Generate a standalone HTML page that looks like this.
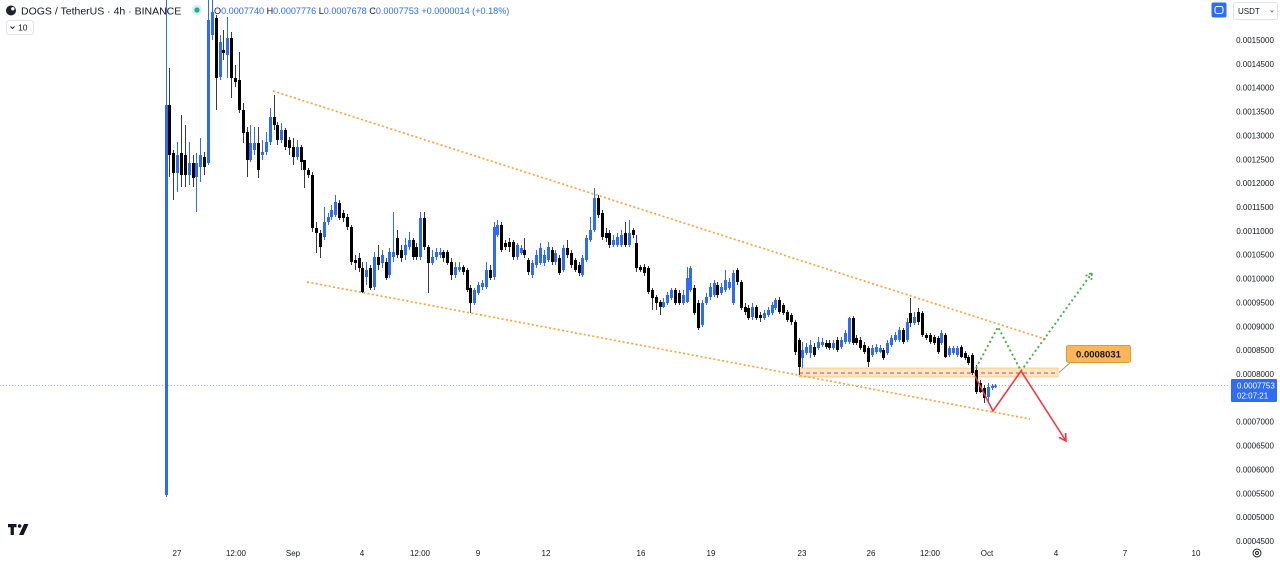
<!DOCTYPE html>
<html><head><meta charset="utf-8">
<style>
html,body{margin:0;padding:0;background:#fff;width:1280px;height:562px;overflow:hidden}
svg{display:block;font-family:"Liberation Sans",Arial,sans-serif}
</style></head><body>
<svg id="chart" width="1280" height="562" viewBox="0 0 1280 562" xmlns="http://www.w3.org/2000/svg">
<rect width="1280" height="562" fill="#ffffff"/>

<!-- current price dotted line -->
<line x1="0" y1="385.5" x2="1230" y2="385.5" stroke="#7fa6f2" stroke-width="1" stroke-dasharray="1 2" opacity="0.8"/>

<!-- support band -->
<rect x="799" y="368" width="259" height="9" fill="rgba(255,167,38,0.28)" stroke="rgba(245,160,50,0.55)" stroke-width="0.8"/>
<line x1="799" y1="373" x2="1058" y2="373" stroke="#b84a78" stroke-width="1" stroke-dasharray="4 3"/>

<!-- wedge trend lines -->
<line x1="273" y1="91" x2="1048" y2="340" stroke="#f7a43a" stroke-width="1.7" stroke-dasharray="2 2.4"/>
<line x1="307" y1="282" x2="1030" y2="419" stroke="#f7a43a" stroke-width="1.7" stroke-dasharray="2 2.4"/>

<g id="candles"></g>

<!-- projections -->
<polyline points="976,368 998,327 1021,371 1092,273" fill="none" stroke="#4caf50" stroke-width="2" stroke-dasharray="2 2.8"/>
<polyline points="1085.6,275.9 1092,273 1091.3,280" fill="none" stroke="#4caf50" stroke-width="1.8" stroke-dasharray="2 2"/>
<polyline points="975,376 993,411 1021,371 1066,441" fill="none" stroke="#f23645" stroke-width="1.6"/>
<polyline points="1065.6,433 1066,441 1058.9,437.3" fill="none" stroke="#f23645" stroke-width="1.6"/>

<!-- callout -->
<line x1="1071" y1="362" x2="1059" y2="372.5" stroke="#b99060" stroke-width="1"/>
<rect x="1066.5" y="345.5" width="64" height="17" rx="2" fill="#f9b65a" stroke="#e09a36" stroke-width="1"/>
<text x="1098.5" y="357.3" font-size="9.5" font-weight="bold" text-anchor="middle" fill="#131722">0.0008031</text>

<!-- header -->
<circle cx="11" cy="10.5" r="5" fill="#1e222d"/>
<circle cx="12.8" cy="8.8" r="1.7" fill="#ffffff"/>
<text x="21" y="14.5" font-size="10.5" fill="#131722">DOGS / TetherUS · 4h · BINANCE</text>
<circle cx="197" cy="10" r="5" fill="rgba(34,171,148,0.18)"/>
<circle cx="197" cy="10" r="2.6" fill="#22ab94"/>
<text x="214" y="14" font-size="9.1" fill="#2f6cf5"><tspan fill="#131722">O</tspan>0.0007740 <tspan fill="#131722">H</tspan>0.0007776 <tspan fill="#131722">L</tspan>0.0007678 <tspan fill="#131722">C</tspan>0.0007753 +0.0000014 (+0.18%)</text>

<rect x="6.5" y="20.5" width="27" height="14" rx="3" fill="#fff" stroke="#e0e3eb"/>
<polyline points="10.5,26.5 12.5,28.5 14.5,26.5" fill="none" stroke="#131722" stroke-width="0.9"/>
<text x="18" y="30.5" font-size="8.5" fill="#131722">10</text>

<!-- top right controls -->
<rect x="1211.5" y="2.5" width="15" height="15" rx="2" fill="#2f6cf5"/>
<rect x="1215" y="6.5" width="8" height="7" rx="2" fill="none" stroke="#ffffff" stroke-width="1"/>
<rect x="1233.5" y="2.5" width="44" height="17" rx="2" fill="#fff" stroke="#e0e3eb"/>
<text x="1238" y="14" font-size="8" fill="#131722">USDT</text>
<polyline points="1270.5,10.5 1272,12 1273.5,10.5" fill="none" stroke="#555" stroke-width="0.8"/>

<!-- right price axis -->
<g font-size="8" fill="#131722" text-anchor="middle">
<text x="1255" y="43">0.0015000</text>
<text x="1255" y="66.8">0.0014500</text>
<text x="1255" y="90.7">0.0014000</text>
<text x="1255" y="114.5">0.0013500</text>
<text x="1255" y="138.4">0.0013000</text>
<text x="1255" y="162.3">0.0012500</text>
<text x="1255" y="186.1">0.0012000</text>
<text x="1255" y="210">0.0011500</text>
<text x="1255" y="233.8">0.0011000</text>
<text x="1255" y="257.7">0.0010500</text>
<text x="1255" y="281.6">0.0010000</text>
<text x="1255" y="305.4">0.0009500</text>
<text x="1255" y="329.3">0.0009000</text>
<text x="1255" y="353.1">0.0008500</text>
<text x="1255" y="377">0.0008000</text>
<text x="1255" y="424.7">0.0007000</text>
<text x="1255" y="448.6">0.0006500</text>
<text x="1255" y="472.4">0.0006000</text>
<text x="1255" y="496.3">0.0005500</text>
<text x="1255" y="520.2">0.0005000</text>
<text x="1255" y="544">0.0004500</text>
</g>

<!-- price label -->
<rect x="1231" y="379" width="46" height="23" rx="1" fill="#2f6cf5"/>
<text x="1237" y="388.6" font-size="8" fill="#ffffff">0.0007753</text>
<text x="1237" y="398.6" font-size="8" fill="#ffffff">02:07:21</text>

<!-- time axis -->
<g font-size="8" fill="#131722" text-anchor="middle">
<text x="177" y="556">27</text>
<text x="236" y="556">12:00</text>
<text x="293" y="556">Sep</text>
<text x="362" y="556">4</text>
<text x="420" y="556">12:00</text>
<text x="478" y="556">9</text>
<text x="546" y="556">12</text>
<text x="641" y="556">16</text>
<text x="711" y="556">19</text>
<text x="802" y="556">23</text>
<text x="871" y="556">26</text>
<text x="930" y="556">12:00</text>
<text x="987" y="556">Oct</text>
<text x="1056" y="556">4</text>
<text x="1125" y="556">7</text>
<text x="1196" y="556">10</text>
</g>

<!-- gear -->
<circle cx="1257" cy="553" r="4" fill="none" stroke="#131722" stroke-width="0.9"/>
<circle cx="1257" cy="553" r="1.5" fill="none" stroke="#131722" stroke-width="0.9"/>

<!-- TV logo -->
<path d="M8 524h8.5v3.2h-2.6v7.8h-3.3v-7.8H8z" fill="#131722"/>
<circle cx="19.6" cy="526" r="1.8" fill="#131722"/>
<polygon points="24,524 28.5,524 23.5,535 19,535" fill="#131722"/>
</svg>

<script>
(function(){
var d="495 105 -5 497,105 155 68 177,153 173 150 200,173 155 142 192,153 175 115 187,155 175 125 187,175 163 142 185,163 178 155 187,177 163 153 212,167 155 138 182,157 167 152 175,163 20 -5 165,35 12 -5 40,18 78 15 110,77 42 35 80,50 53 30 60,55 38 17 78,38 78 32 98,78 82 65 87,80 110 52 113,110 133 103 143,132 160 127 177,160 143 125 162,150 143 127 155,143 170 127 178,155 152 140 160,152 142 132 155,142 117 108 145,117 125 95 130,125 140 122 145,140 130 123 143,130 147 128 150,140 148 137 155,147 157 138 165,157 147 140 160,147 162 145 170,160 170 160 188,170 175 168 178,175 228 172 232,228 233 222 253,233 247 230 258,237 222 207 240,222 217 213 225,217 210 205 220,215 202 195 217,203 218 200 220,213 218 210 222,217 227 214 230,227 262 225 265,260 263 255 270,258 268 253 272,268 292 262 293,277 270 262 285,268 288 265 290,287 257 252 290,257 265 245 270,263 255 250 268,262 278 258 280,275 252 248 278,257 252 212 262,238 255 230 258,250 258 245 262,255 245 238 260,247 240 232 250,240 257 238 260,247 257 243 260,257 218 212 260,218 247 212 250,247 263 245 293,263 257 250 265,257 252 248 260,255 252 248 258,252 258 250 262,252 263 250 265,262 275 258 280,275 267 262 278,270 267 262 272,267 272 265 275,270 290 268 292,288 303 285 313,303 290 288 305,293 285 282 295,287 283 280 290,287 270 262 289,270 278 265 280,277 227 222 280,235 225 220 237,225 250 222 252,243 247 240 250,242 247 238 252,242 257 240 260,257 245 243 260,253 248 245 255,250 255 238 258,260 272 258 275,275 263 260 278,265 255 250 268,263 248 243 265,263 255 250 266,260 247 242 262,250 262 247 265,262 253 250 265,258 273 255 275,270 248 245 272,248 255 240 258,253 265 250 268,260 270 258 272,265 273 262 276,275 258 255 277,260 238 235 262,240 230 217 242,230 198 188 232,198 215 195 218,213 237 210 240,233 238 228 242,233 245 230 248,245 240 235 247,245 237 233 247,245 235 230 247,233 245 222 247,245 233 220 247,230 235 228 238,243 268 235 272,267 270 265 272,267 273 264 276,268 292 266 294,290 298 288 310,297 303 295 310,302 307 300 315,307 302 298 308,303 295 292 305,298 290 288 300,290 303 288 305,293 303 290 305,303 295 290 305,302 278 267 303,290 268 266 292,288 313 285 315,303 328 300 330,325 303 300 327,303 297 293 305,297 287 283 300,295 283 280 297,285 295 282 298,293 287 283 295,290 280 270 292,288 282 278 290,303 273 270 305,270 282 268 285,282 308 280 310,307 312 303 315,308 318 305 320,317 307 303 320,307 318 305 320,315 318 312 322,318 313 310 320,315 310 307 317,313 305 302 315,308 300 298 310,300 312 297 314,305 313 303 315,312 320 310 322,315 322 313 325,322 352 320 355,340 367 338 375,358 350 342 368,353 347 343 355,353 345 340 358,347 355 343 357,348 342 337 350,345 342 338 347,343 347 340 349,343 348 340 350,348 343 340 350,340 350 337 352,347 340 337 349,342 333 330 344,342 318 317 344,318 343 316 345,338 343 335 345,340 348 337 350,345 352 342 354,348 362 346 367,355 348 345 357,352 347 344 354,352 348 345 353,350 358 348 360,353 343 340 355,345 338 335 347,340 335 332 342,340 330 327 342,330 342 328 344,340 322 318 342,313 323 298 327,323 317 312 325,312 322 308 325,313 335 311 337,335 338 333 340,335 342 333 344,337 343 335 345,338 352 336 354,343 333 330 345,335 357 333 358,355 348 346 357,353 348 346 355,355 348 346 357,347 357 345 358,353 358 351 360,357 363 355 365,355 373 353 375,370 392 365 394,383 392 380 393,388 398 385 403,397 387 383 402,388 386 384 390,387 385.5 384 388".split(',');
var ns='http://www.w3.org/2000/svg';
var g=document.getElementById('candles');
for(var i=0;i<d.length;i++){
  var v=d[i].split(' ').map(Number);
  var o=v[0],c=v[1],h=v[2],l=v[3];
  var up=c<o;
  var xc=Math.round(165.5+i*3.86);
  var body=up?'#2f6cf5':'#000000';
  var wick=up?'#2f6cf5':'#3a3a3a';
  var ln=document.createElementNS(ns,'line');
  ln.setAttribute('x1',xc+0.5);ln.setAttribute('x2',xc+0.5);
  ln.setAttribute('y1',h);ln.setAttribute('y2',l);
  ln.setAttribute('stroke',wick);ln.setAttribute('stroke-width','1');
  g.appendChild(ln);
  var top=Math.min(o,c),ht=Math.max(Math.abs(o-c),1);
  var r=document.createElementNS(ns,'rect');
  r.setAttribute('x',xc-1);r.setAttribute('y',top);
  r.setAttribute('width',3);r.setAttribute('height',ht);
  r.setAttribute('fill',body);
  g.appendChild(r);
}
})();
</script>
</body></html>
